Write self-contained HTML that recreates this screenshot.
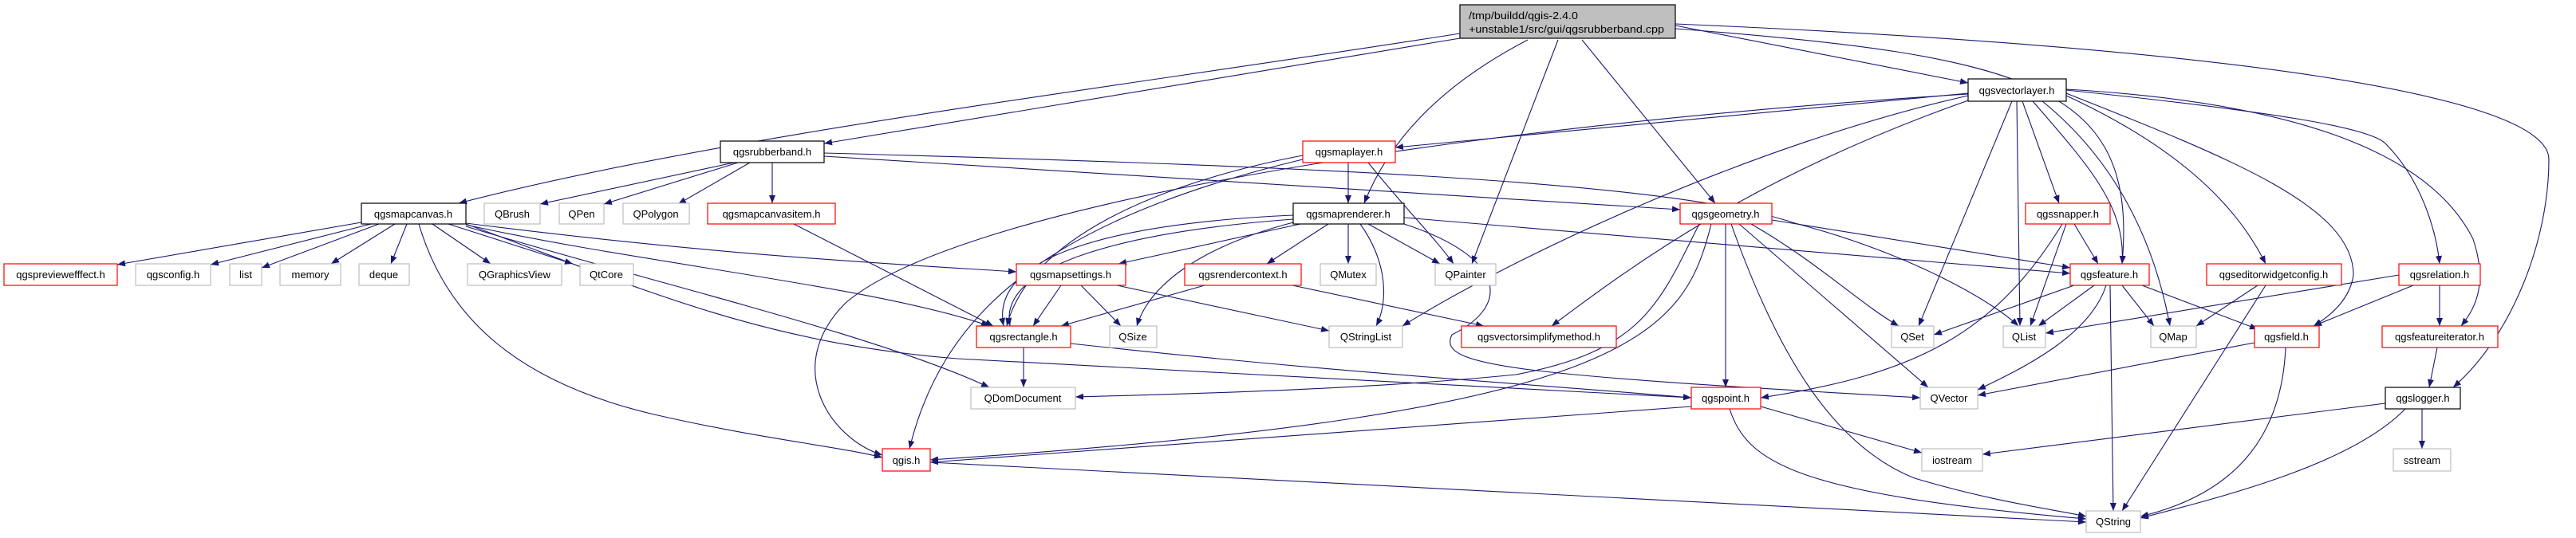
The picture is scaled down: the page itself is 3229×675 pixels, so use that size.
<!DOCTYPE html>
<html><head><meta charset="utf-8"><style>
html,body{margin:0;padding:0;background:#fff;}
svg{display:block;}
text{font-family:"Liberation Sans","DejaVu Sans",sans-serif;font-size:13px;fill:#000;}
.e{fill:none;stroke:#191970;stroke-width:1.1;marker-end:url(#a);}
.b{fill:#fff;stroke:#000;stroke-width:1.2;}
.r{fill:#fff;stroke:#ff0000;stroke-width:1.2;}
.g{fill:#fff;stroke:#bfbfbf;stroke-width:1.2;}
</style></head><body>
<svg width="3229" height="675" viewBox="0 0 3229 675" xmlns="http://www.w3.org/2000/svg">
<defs><marker id="a" viewBox="0 0 10 8" refX="10" refY="4" markerWidth="10" markerHeight="8" markerUnits="userSpaceOnUse" orient="auto"><path d="M0,0 L10,4 L0,8 z" fill="#191970"/></marker></defs>
<g>
<!-- root -->
<path class="e" d="M1830,42 C1400,110 900,170 575,255"/>
<path class="e" d="M1830,48 L1033,180"/>
<path class="e" d="M1915,50 C1800,110 1740,180 1710,255"/>
<path class="e" d="M1953,50 L1845,331"/>
<path class="e" d="M1983,50 L2150,255"/>
<path class="e" d="M2100,32 L2467,104"/>
<path class="e" d="M2100,36 C2550,70 2680,110 2660,331"/>
<path class="e" d="M2100,30 C2800,60 3195,120 3195,200 C3195,300 3150,420 3075,486"/>
<!-- rubberband -->
<path class="e" d="M920,204 L677,256"/>
<path class="e" d="M925,204 L757,256"/>
<path class="e" d="M940,204 L850,256"/>
<path class="e" d="M968,204 L968,255"/>
<path class="e" d="M1033,192 C1700,210 2100,230 2250,280 C2400,320 2500,380 2530,409"/>
<path class="e" d="M1033,196 L2106,263"/>
<!-- maplayer -->
<path class="e" d="M1690,204 L1690,255"/>
<path class="e" d="M1715,204 C1760,260 1800,300 1822,331"/>
<path class="e" d="M1633,195 C1450,230 1290,300 1262,409"/>
<path class="e" d="M1633,200 C1300,280 1180,400 1140,563"/>
<!-- vectorlayer -->
<path class="e" d="M2467,117 L1749,185"/>
<path class="e" d="M2467,118 C1800,160 1200,260 1060,380 C980,460 1040,550 1106,571"/>
<path class="e" d="M2467,120 C2200,180 1900,320 1758,409"/>
<path class="e" d="M2470,125 C2200,220 2050,330 1945,409"/>
<path class="e" d="M2522,127 L2405,409"/>
<path class="e" d="M2528,127 L2532,409"/>
<path class="e" d="M2535,127 L2581,255"/>
<path class="e" d="M2548,127 C2620,210 2665,260 2660,331"/>
<path class="e" d="M2560,127 C2650,200 2700,300 2720,409"/>
<path class="e" d="M2590,120 C2720,180 2800,250 2840,331"/>
<path class="e" d="M2590,117 C2800,200 2950,260 2950,345 C2945,380 2915,400 2900,409"/>
<path class="e" d="M2590,113 C2850,140 2970,160 2990,180 C3040,230 3055,300 3058,331"/>
<path class="e" d="M2590,112 C2900,130 3050,200 3100,300 C3120,360 3100,390 3085,409"/>
<!-- maprenderer -->
<path class="e" d="M1630,281 L1402,331"/>
<path class="e" d="M1665,281 L1588,331"/>
<path class="e" d="M1690,281 L1690,331"/>
<path class="e" d="M1715,281 L1805,331"/>
<path class="e" d="M1705,281 C1740,330 1740,380 1725,409"/>
<path class="e" d="M1625,278 C1500,310 1440,360 1425,409"/>
<path class="e" d="M1621,270 C1400,280 1240,320 1258,409"/>
<path class="e" d="M1621,275 C1420,290 1250,330 1266,409"/>
<path class="e" d="M1760,273 L2595,343"/>
<path class="e" d="M1760,281 C1880,320 1900,380 1820,420 C1800,460 1900,470 2407,499"/>
<!-- mapcanvas -->
<path class="e" d="M453,279 L147,332"/>
<path class="e" d="M465,281 L264,332"/>
<path class="e" d="M475,281 L328,336"/>
<path class="e" d="M495,281 L415,331"/>
<path class="e" d="M510,281 L490,331"/>
<path class="e" d="M542,281 L615,331"/>
<path class="e" d="M562,281 L718,331"/>
<path class="e" d="M525,281 C560,400 650,480 820,520 C950,550 1050,560 1106,574"/>
<path class="e" d="M584,280 C900,320 1100,330 1274,341"/>
<path class="e" d="M584,282 C800,330 1100,360 1240,409"/>
<path class="e" d="M584,284 C800,350 1100,420 1240,486"/>
<path class="e" d="M584,281 C800,360 950,430 1200,450 C1600,470 1900,485 2120,499"/>
<!-- others -->
<path class="e" d="M995,281 L1245,409"/>
<path class="e" d="M1330,358 L1295,409"/>
<path class="e" d="M1355,358 L1405,409"/>
<path class="e" d="M1400,358 L1666,415"/>
<path class="e" d="M1510,358 L1330,409"/>
<path class="e" d="M1620,358 L1860,409"/>
<path class="e" d="M1283,436 L1283,486"/>
<path class="e" d="M1342,431 C1700,470 1900,480 2120,499"/>
<path class="e" d="M2221,276 L2595,336"/>
<path class="e" d="M2195,281 C2280,330 2330,380 2380,409"/>
<path class="e" d="M2180,281 L2417,486"/>
<path class="e" d="M2163,281 L2163,486"/>
<path class="e" d="M2170,281 C2230,450 2300,560 2400,600 C2500,630 2580,640 2615,648"/>
<path class="e" d="M2145,281 C2110,420 2050,520 1166,577"/>
<path class="e" d="M2130,281 C2080,380 2060,440 1900,470 C1700,490 1450,495 1348,498"/>
<path class="e" d="M2600,281 L2630,331"/>
<path class="e" d="M2590,281 L2545,409"/>
<path class="e" d="M2585,281 C2500,420 2400,470 2207,499"/>
<path class="e" d="M2600,358 L2424,420"/>
<path class="e" d="M2625,358 L2555,409"/>
<path class="e" d="M2660,358 L2700,409"/>
<path class="e" d="M2685,358 L2830,413"/>
<path class="e" d="M2640,358 C2620,420 2540,460 2479,489"/>
<path class="e" d="M2645,358 L2649,641"/>
<path class="e" d="M2830,358 L2753,409"/>
<path class="e" d="M2840,358 L2660,641"/>
<path class="e" d="M3007,345 L2564,418"/>
<path class="e" d="M3025,358 L2900,409"/>
<path class="e" d="M3058,358 L3058,409"/>
<path class="e" d="M2826,430 L2479,496"/>
<path class="e" d="M2865,436 C2860,550 2800,620 2683,648"/>
<path class="e" d="M3055,436 L3045,486"/>
<path class="e" d="M2990,506 L2485,570"/>
<path class="e" d="M3036,513 L3036,563"/>
<path class="e" d="M3015,513 C2950,580 2800,620 2683,650"/>
<path class="e" d="M2120,510 L1166,580"/>
<path class="e" d="M2207,510 L2409,568"/>
<path class="e" d="M2168,513 C2190,580 2250,620 2615,651"/>
<path class="e" d="M1166,580 L2615,655"/>
</g>
<g>
<rect x="1830" y="6" width="270" height="42" fill="#bfbfbf" stroke="#000" stroke-width="1.2"/>
<text x="1841" y="24" textLength="137" lengthAdjust="spacingAndGlyphs">/tmp/buildd/qgis-2.4.0</text>
<text x="1841" y="41" textLength="245" lengthAdjust="spacingAndGlyphs">+unstable1/src/gui/qgsrubberband.cpp</text>
</g>
<g text-anchor="middle">
<rect class="b" x="903" y="177" width="130" height="27"/><text x="968" y="195">qgsrubberband.h</text>
<rect class="b" x="453" y="255" width="131" height="26"/><text x="518" y="273">qgsmapcanvas.h</text>
<rect class="g" x="607" y="255" width="70" height="26"/><text x="642" y="273">QBrush</text>
<rect class="g" x="701" y="255" width="56" height="26"/><text x="729" y="273">QPen</text>
<rect class="g" x="781" y="255" width="83" height="26"/><text x="822" y="273">QPolygon</text>
<rect class="r" x="887" y="255" width="160" height="26"/><text x="967" y="273">qgsmapcanvasitem.h</text>
<rect class="r" x="5" y="331" width="142" height="27"/><text x="76" y="349">qgspreviewefffect.h</text>
<rect class="g" x="170" y="331" width="94" height="27"/><text x="217" y="349">qgsconfig.h</text>
<rect class="g" x="288" y="331" width="40" height="27"/><text x="308" y="349">list</text>
<rect class="g" x="351" y="331" width="76" height="27"/><text x="389" y="349">memory</text>
<rect class="g" x="450" y="331" width="63" height="27"/><text x="481" y="349">deque</text>
<rect class="g" x="586" y="331" width="118" height="27"/><text x="645" y="349">QGraphicsView</text>
<rect class="g" x="727" y="331" width="67" height="27"/><text x="760" y="349">QtCore</text>
<rect class="r" x="1633" y="177" width="116" height="27"/><text x="1691" y="195">qgsmaplayer.h</text>
<rect class="b" x="1621" y="255" width="139" height="26"/><text x="1690" y="273">qgsmaprenderer.h</text>
<rect class="r" x="1274" y="331" width="137" height="27"/><text x="1342" y="349">qgsmapsettings.h</text>
<rect class="r" x="1485" y="331" width="146" height="27"/><text x="1558" y="349">qgsrendercontext.h</text>
<rect class="g" x="1655" y="331" width="70" height="27"/><text x="1690" y="349">QMutex</text>
<rect class="g" x="1799" y="331" width="76" height="27"/><text x="1837" y="349">QPainter</text>
<rect class="r" x="1224" y="409" width="118" height="27"/><text x="1283" y="427">qgsrectangle.h</text>
<rect class="g" x="1391" y="409" width="59" height="27"/><text x="1420" y="427">QSize</text>
<rect class="g" x="1666" y="409" width="92" height="27"/><text x="1712" y="427">QStringList</text>
<rect class="r" x="1832" y="409" width="194" height="27"/><text x="1929" y="427">qgsvectorsimplifymethod.h</text>
<rect class="g" x="1217" y="486" width="131" height="27"/><text x="1282" y="504">QDomDocument</text>
<rect class="r" x="1106" y="563" width="60" height="28"/><text x="1136" y="582">qgis.h</text>
<rect class="b" x="2467" y="99" width="123" height="28"/><text x="2528" y="118">qgsvectorlayer.h</text>
<rect class="r" x="2106" y="255" width="115" height="26"/><text x="2163" y="273">qgsgeometry.h</text>
<rect class="r" x="2539" y="255" width="106" height="26"/><text x="2592" y="273">qgssnapper.h</text>
<rect class="r" x="2595" y="331" width="99" height="27"/><text x="2644" y="349">qgsfeature.h</text>
<rect class="r" x="2766" y="331" width="169" height="27"/><text x="2850" y="349">qgseditorwidgetconfig.h</text>
<rect class="r" x="3007" y="331" width="102" height="27"/><text x="3058" y="349">qgsrelation.h</text>
<rect class="g" x="2371" y="409" width="53" height="27"/><text x="2397" y="427">QSet</text>
<rect class="g" x="2511" y="409" width="53" height="27"/><text x="2537" y="427">QList</text>
<rect class="g" x="2696" y="409" width="57" height="27"/><text x="2724" y="427">QMap</text>
<rect class="r" x="2826" y="409" width="81" height="27"/><text x="2866" y="427">qgsfield.h</text>
<rect class="r" x="2986" y="409" width="145" height="27"/><text x="3058" y="427">qgsfeatureiterator.h</text>
<rect class="r" x="2120" y="486" width="87" height="27"/><text x="2163" y="504">qgspoint.h</text>
<rect class="g" x="2407" y="486" width="72" height="27"/><text x="2443" y="504">QVector</text>
<rect class="b" x="2990" y="486" width="94" height="27"/><text x="3037" y="504">qgslogger.h</text>
<rect class="g" x="2409" y="563" width="76" height="28"/><text x="2447" y="582">iostream</text>
<rect class="g" x="3000" y="563" width="72" height="28"/><text x="3036" y="582">sstream</text>
<rect class="g" x="2615" y="641" width="68" height="27"/><text x="2649" y="659">QString</text>
</g>
</svg>
</body></html>
